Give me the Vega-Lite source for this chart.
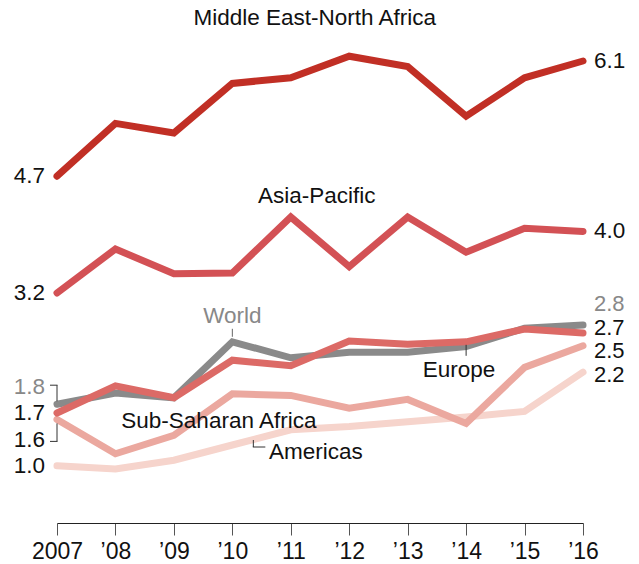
{
  "$schema": "https://vega.github.io/schema/vega-lite/v6.json",
  "autosize": {"type": "none"},
  "width": 526,
  "height": 522,
  "padding": {"left": 57, "top": 1, "right": 56, "bottom": 41},
  "config": {"view": {"stroke": null}, "font": "Liberation Sans", "text": {"font": "Liberation Sans"}},
  "data": {"values": [
    {"series": "Americas", "year": 2007, "value": 1.04},
    {"series": "Americas", "year": 2008, "value": 1.00},
    {"series": "Americas", "year": 2009, "value": 1.11},
    {"series": "Americas", "year": 2010, "value": 1.30},
    {"series": "Americas", "year": 2011, "value": 1.49},
    {"series": "Americas", "year": 2012, "value": 1.53},
    {"series": "Americas", "year": 2013, "value": 1.59},
    {"series": "Americas", "year": 2014, "value": 1.65},
    {"series": "Americas", "year": 2015, "value": 1.72},
    {"series": "Americas", "year": 2016, "value": 2.21},
    {"series": "Sub-Saharan Africa", "year": 2007, "value": 1.62},
    {"series": "Sub-Saharan Africa", "year": 2008, "value": 1.19},
    {"series": "Sub-Saharan Africa", "year": 2009, "value": 1.42},
    {"series": "Sub-Saharan Africa", "year": 2010, "value": 1.94},
    {"series": "Sub-Saharan Africa", "year": 2011, "value": 1.92},
    {"series": "Sub-Saharan Africa", "year": 2012, "value": 1.76},
    {"series": "Sub-Saharan Africa", "year": 2013, "value": 1.87},
    {"series": "Sub-Saharan Africa", "year": 2014, "value": 1.57},
    {"series": "Sub-Saharan Africa", "year": 2015, "value": 2.27},
    {"series": "Sub-Saharan Africa", "year": 2016, "value": 2.54},
    {"series": "World", "year": 2007, "value": 1.81},
    {"series": "World", "year": 2008, "value": 1.95},
    {"series": "World", "year": 2009, "value": 1.89},
    {"series": "World", "year": 2010, "value": 2.59},
    {"series": "World", "year": 2011, "value": 2.39},
    {"series": "World", "year": 2012, "value": 2.46},
    {"series": "World", "year": 2013, "value": 2.46},
    {"series": "World", "year": 2014, "value": 2.53},
    {"series": "World", "year": 2015, "value": 2.76},
    {"series": "World", "year": 2016, "value": 2.80},
    {"series": "Europe", "year": 2007, "value": 1.70},
    {"series": "Europe", "year": 2008, "value": 2.04},
    {"series": "Europe", "year": 2009, "value": 1.89},
    {"series": "Europe", "year": 2010, "value": 2.36},
    {"series": "Europe", "year": 2011, "value": 2.29},
    {"series": "Europe", "year": 2012, "value": 2.60},
    {"series": "Europe", "year": 2013, "value": 2.56},
    {"series": "Europe", "year": 2014, "value": 2.59},
    {"series": "Europe", "year": 2015, "value": 2.75},
    {"series": "Europe", "year": 2016, "value": 2.70},
    {"series": "Asia-Pacific", "year": 2007, "value": 3.20},
    {"series": "Asia-Pacific", "year": 2008, "value": 3.75},
    {"series": "Asia-Pacific", "year": 2009, "value": 3.44},
    {"series": "Asia-Pacific", "year": 2010, "value": 3.45},
    {"series": "Asia-Pacific", "year": 2011, "value": 4.15},
    {"series": "Asia-Pacific", "year": 2012, "value": 3.53},
    {"series": "Asia-Pacific", "year": 2013, "value": 4.15},
    {"series": "Asia-Pacific", "year": 2014, "value": 3.71},
    {"series": "Asia-Pacific", "year": 2015, "value": 4.01},
    {"series": "Asia-Pacific", "year": 2016, "value": 3.97},
    {"series": "Middle East-North Africa", "year": 2007, "value": 4.66},
    {"series": "Middle East-North Africa", "year": 2008, "value": 5.32},
    {"series": "Middle East-North Africa", "year": 2009, "value": 5.20},
    {"series": "Middle East-North Africa", "year": 2010, "value": 5.82},
    {"series": "Middle East-North Africa", "year": 2011, "value": 5.89},
    {"series": "Middle East-North Africa", "year": 2012, "value": 6.16},
    {"series": "Middle East-North Africa", "year": 2013, "value": 6.03},
    {"series": "Middle East-North Africa", "year": 2014, "value": 5.41},
    {"series": "Middle East-North Africa", "year": 2015, "value": 5.89},
    {"series": "Middle East-North Africa", "year": 2016, "value": 6.10}
  ]},
  "encoding": {
    "x": {"field": "year", "type": "quantitative",
      "scale": {"domain": [2007, 2016], "nice": false, "zero": false},
      "axis": {"values": [2007, 2008, 2009, 2010, 2011, 2012, 2013, 2014, 2015, 2016],
        "labelExpr": "datum.value == 2007 ? '2007' : '’' + slice(toString(datum.value), 2)",
        "grid": false, "title": null, "domainColor": "#222", "tickColor": "#555", "tickSize": 12,
        "labelFontSize": 23, "labelFont": "Liberation Sans", "labelColor": "#111", "labelPadding": 5,
        "labelFlush": false, "labelOverlap": false}},
    "y": {"field": "value", "type": "quantitative",
      "scale": {"domain": [0.325, 6.85], "nice": false, "zero": false}, "axis": null}
  },
  "layer": [
    {"mark": {"type": "line", "strokeWidth": 7, "strokeCap": "round", "strokeJoin": "miter", "clip": false},
     "encoding": {"color": {"field": "series", "type": "nominal", "legend": null,
       "scale": {"domain": ["Americas", "Sub-Saharan Africa", "World", "Europe", "Asia-Pacific", "Middle East-North Africa"],
                 "range": ["#f6d4cc", "#eba89f", "#8a8a8a", "#dc6a66", "#d35155", "#c12f25"]}}}},
    {"transform": [{"filter": "datum.year == 2007 && (datum.series == 'Middle East-North Africa' || datum.series == 'Asia-Pacific' || datum.series == 'Europe' || datum.series == 'Americas')"}],
     "mark": {"type": "text", "align": "right", "baseline": "middle", "dx": -12, "fontSize": 22.5, "color": "#111"},
     "encoding": {"text": {"field": "value", "format": ".1f"}}},
    {"transform": [{"filter": "datum.year == 2007 && datum.series == 'World'"}],
     "mark": {"type": "text", "align": "right", "baseline": "middle", "dx": -12, "dy": -17, "fontSize": 22.5, "color": "#888"},
     "encoding": {"text": {"field": "value", "format": ".1f"}}},
    {"transform": [{"filter": "datum.year == 2007 && datum.series == 'Sub-Saharan Africa'"}],
     "mark": {"type": "text", "align": "right", "baseline": "middle", "dx": -12, "dy": 21, "fontSize": 22.5, "color": "#111"},
     "encoding": {"text": {"field": "value", "format": ".1f"}}},
    {"transform": [{"filter": "datum.year == 2016 && (datum.series == 'Middle East-North Africa' || datum.series == 'Asia-Pacific')"}],
     "mark": {"type": "text", "align": "left", "baseline": "middle", "dx": 11, "fontSize": 22.5, "color": "#111"},
     "encoding": {"text": {"field": "value", "format": ".1f"}}},
    {"transform": [{"filter": "datum.year == 2016 && datum.series == 'World'"}],
     "mark": {"type": "text", "align": "left", "baseline": "middle", "dx": 11, "dy": -21, "fontSize": 22, "color": "#888"},
     "encoding": {"text": {"field": "value", "format": ".1f"}}},
    {"transform": [{"filter": "datum.year == 2016 && datum.series == 'Europe'"}],
     "mark": {"type": "text", "align": "left", "baseline": "middle", "dx": 11, "dy": -5, "fontSize": 22, "color": "#111"},
     "encoding": {"text": {"field": "value", "format": ".1f"}}},
    {"transform": [{"filter": "datum.year == 2016 && datum.series == 'Sub-Saharan Africa'"}],
     "mark": {"type": "text", "align": "left", "baseline": "middle", "dx": 11, "dy": 5, "fontSize": 22, "color": "#111"},
     "encoding": {"text": {"field": "value", "format": ".1f"}}},
    {"transform": [{"filter": "datum.year == 2016 && datum.series == 'Americas'"}],
     "mark": {"type": "text", "align": "left", "baseline": "middle", "dx": 11, "dy": 3, "fontSize": 22, "color": "#111"},
     "encoding": {"text": {"field": "value", "format": ".1f"}}},
    {"transform": [{"filter": "datum.year == 2011 && datum.series == 'Middle East-North Africa'"}],
     "mark": {"type": "text", "align": "center", "baseline": "middle", "dx": 24, "dy": -60, "fontSize": 22.5, "color": "#111"},
     "encoding": {"text": {"field": "series"}}},
    {"transform": [{"filter": "datum.year == 2011 && datum.series == 'Asia-Pacific'"}],
     "mark": {"type": "text", "align": "center", "baseline": "middle", "dx": 26, "dy": -21, "fontSize": 22.5, "color": "#111"},
     "encoding": {"text": {"field": "series"}}},
    {"transform": [{"filter": "datum.year == 2010 && datum.series == 'World'"}],
     "mark": {"type": "text", "align": "center", "baseline": "middle", "dy": -26, "fontSize": 22.5, "color": "#888"},
     "encoding": {"text": {"field": "series"}}},
    {"transform": [{"filter": "datum.year == 2014 && datum.series == 'Europe'"}],
     "mark": {"type": "text", "align": "center", "baseline": "middle", "dx": -7, "dy": 28, "fontSize": 22.5, "color": "#111"},
     "encoding": {"text": {"field": "series"}}},
    {"transform": [{"filter": "datum.year == 2009 && datum.series == 'Sub-Saharan Africa'"}],
     "mark": {"type": "text", "align": "center", "baseline": "middle", "dx": 45, "dy": -14, "fontSize": 22.5, "color": "#111"},
     "encoding": {"text": {"field": "series"}}},
    {"transform": [{"filter": "datum.year == 2011 && datum.series == 'Americas'"}],
     "mark": {"type": "text", "align": "center", "baseline": "middle", "dx": 25, "dy": 22, "fontSize": 22.5, "color": "#111"},
     "encoding": {"text": {"field": "series"}}},
    {"transform": [{"filter": "datum.year == 2010 && datum.series == 'World'"}],
     "mark": {"type": "rule", "color": "#666", "strokeWidth": 1, "yOffset": -13, "y2Offset": -5},
     "encoding": {"y2": {"field": "value"}}},
    {"transform": [{"filter": "datum.year == 2014 && datum.series == 'Europe'"}],
     "mark": {"type": "rule", "color": "#333", "strokeWidth": 1, "yOffset": 3, "y2Offset": 14},
     "encoding": {"y2": {"field": "value"}}},
    {"transform": [{"filter": "datum.year == 2007 && datum.series == 'World'"}],
     "mark": {"type": "rule", "color": "#333", "strokeWidth": 1, "yOffset": -19, "y2Offset": -3},
     "encoding": {"y2": {"field": "value"}}},
    {"transform": [{"filter": "datum.year == 2007 && datum.series == 'World'"}],
     "mark": {"type": "rule", "color": "#333", "strokeWidth": 1, "xOffset": -7, "x2Offset": 0.5, "yOffset": -19},
     "encoding": {"x2": {"field": "year"}}},
    {"transform": [{"filter": "datum.year == 2007 && datum.series == 'Sub-Saharan Africa'"}],
     "mark": {"type": "rule", "color": "#333", "strokeWidth": 1, "yOffset": 4, "y2Offset": 22},
     "encoding": {"y2": {"field": "value"}}},
    {"transform": [{"filter": "datum.year == 2007 && datum.series == 'Sub-Saharan Africa'"}],
     "mark": {"type": "rule", "color": "#333", "strokeWidth": 1, "xOffset": -7, "x2Offset": 0.5, "yOffset": 22},
     "encoding": {"x2": {"field": "year"}}},
    {"transform": [{"filter": "datum.year == 2010 && datum.series == 'Americas'"}],
     "mark": {"type": "rule", "color": "#333", "strokeWidth": 1, "xOffset": 21, "yOffset": -5, "y2Offset": 2},
     "encoding": {"y2": {"field": "value"}}},
    {"transform": [{"filter": "datum.year == 2010 && datum.series == 'Americas'"}],
     "mark": {"type": "rule", "color": "#333", "strokeWidth": 1, "xOffset": 20.5, "x2Offset": 33, "yOffset": 2},
     "encoding": {"x2": {"field": "year"}}}
  ]
}
